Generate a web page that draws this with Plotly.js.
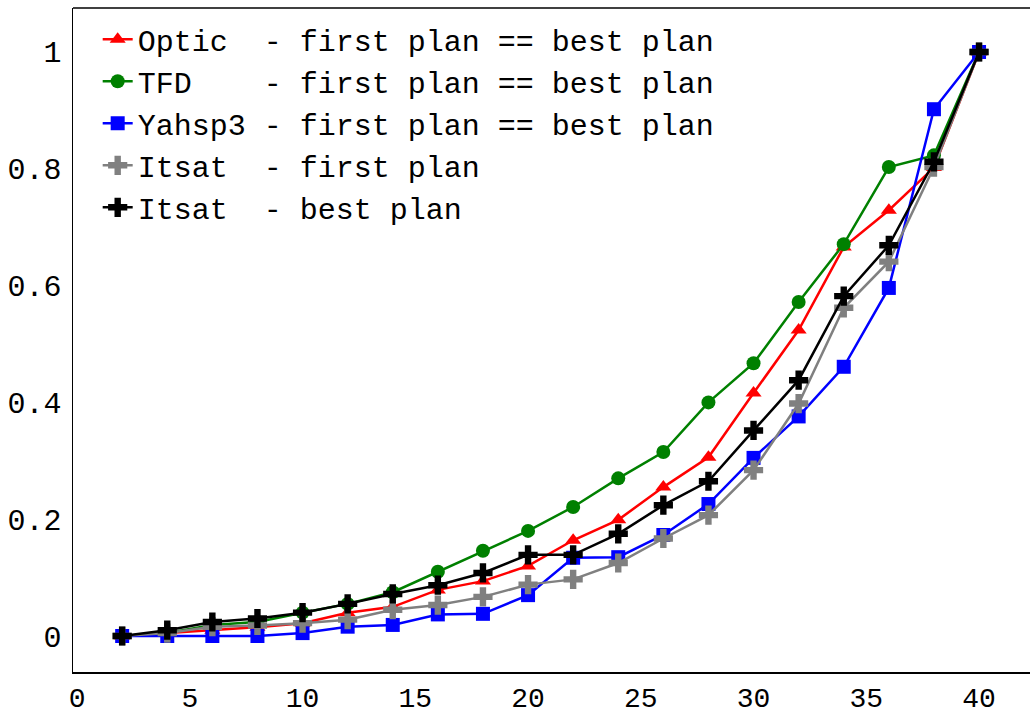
<!DOCTYPE html>
<html><head><meta charset="utf-8">
<script src="https://cdn.plot.ly/plotly-3.0.1.min.js"></script>
<style>html,body{margin:0;padding:0;background:#fff}</style>
</head><body><div id="chart" style="width:1030px;height:715px"></div>
<script>
var xs = [2,4,6,8,10,12,14,16,18,20,22,24,26,28,30,32,34,36,38,40];
var optic = [0,0.005,0.01,0.015,0.022,0.04,0.05,0.079,0.094,0.12,0.164,0.199,0.255,0.306,0.416,0.524,0.666,0.729,0.802,1.0];
var tfd = [0,0.005,0.019,0.024,0.04,0.055,0.075,0.11,0.146,0.18,0.221,0.27,0.315,0.4,0.467,0.572,0.671,0.803,0.823,1.0];
var yahsp3 = [0,0,0,0,0.005,0.016,0.019,0.037,0.038,0.07,0.134,0.135,0.173,0.226,0.305,0.376,0.461,0.596,0.902,1.0];
var itsatFirst = [0,0.005,0.016,0.018,0.022,0.028,0.045,0.053,0.067,0.088,0.097,0.125,0.167,0.207,0.284,0.398,0.562,0.641,0.803,1.0];
var itsatBest = [0,0.01,0.024,0.03,0.04,0.055,0.072,0.087,0.108,0.139,0.139,0.175,0.224,0.265,0.352,0.438,0.582,0.669,0.812,1.0];
var names = [
  "Optic\u00A0\u00A0- first plan == best plan",
  "TFD\u00A0\u00A0\u00A0\u00A0- first plan == best plan",
  "Yahsp3 - first plan == best plan",
  "Itsat\u00A0\u00A0- first plan",
  "Itsat\u00A0\u00A0- best plan"
];
var xTicks = [0,5,10,15,20,25,30,35,40];
var yTicks = [0,0.2,0.4,0.6,0.8,1];
var yTickText = ["0","0.2","0.4","0.6","0.8","1"];

function tr(y, name, color, symbol, size) {
  return {x: xs, y: y, name: name, type: 'scatter', mode: 'lines+markers',
    line: {color: color, width: 2.5},
    marker: {color: color, symbol: symbol, size: size, line: {width: 0}}};
}
var data = [
  tr(optic, names[0], '#ff0000', 'triangle-up', 14),
  tr(tfd, names[1], '#008000', 'circle', 14),
  tr(yahsp3, names[2], '#0000ff', 'square', 14),
  tr(itsatFirst, names[3], '#808080', 'cross', 16),
  tr(itsatBest, names[4], '#000000', 'cross', 16)
];
var font = {family: 'Liberation Mono, monospace', size: 30, color: '#000'};
var xfont = {family: 'Liberation Mono, monospace', size: 28, color: '#000'};
var layout = {
  width: 1030, height: 715,
  margin: {l: 73, r: 0, t: 8, b: 43, pad: 0},
  paper_bgcolor: '#fff', plot_bgcolor: '#fff',
  font: font,
  showlegend: true,
  legend: {x: 0.0258, y: 0.992, xanchor: 'left', yanchor: 'top', bgcolor: 'rgba(0,0,0,0)',
    font: font, itemwidth: 30, tracegroupgap: 0},
  xaxis: {range: [-0.18, 42.26], tickvals: xTicks, ticks: '', showgrid: false, zeroline: false,
    showline: true, linecolor: '#000', linewidth: 1.5, tickfont: xfont, ticklabelstandoff: 0},
  yaxis: {range: [-0.0616, 1.0753], tickvals: yTicks, ticktext: yTickText, ticks: '', showgrid: false,
    zeroline: false, showline: true, linecolor: '#000', linewidth: 1.5, tickfont: font, ticklabelstandoff: 4},
  shapes: [{type: 'line', xref: 'paper', yref: 'paper', x0: 0, x1: 1, y0: 1, y1: 1,
    line: {color: '#000', width: 1.5}}]
};
Plotly.newPlot('chart', data, layout, {displayModeBar: false, staticPlot: true});
</script></body></html>
